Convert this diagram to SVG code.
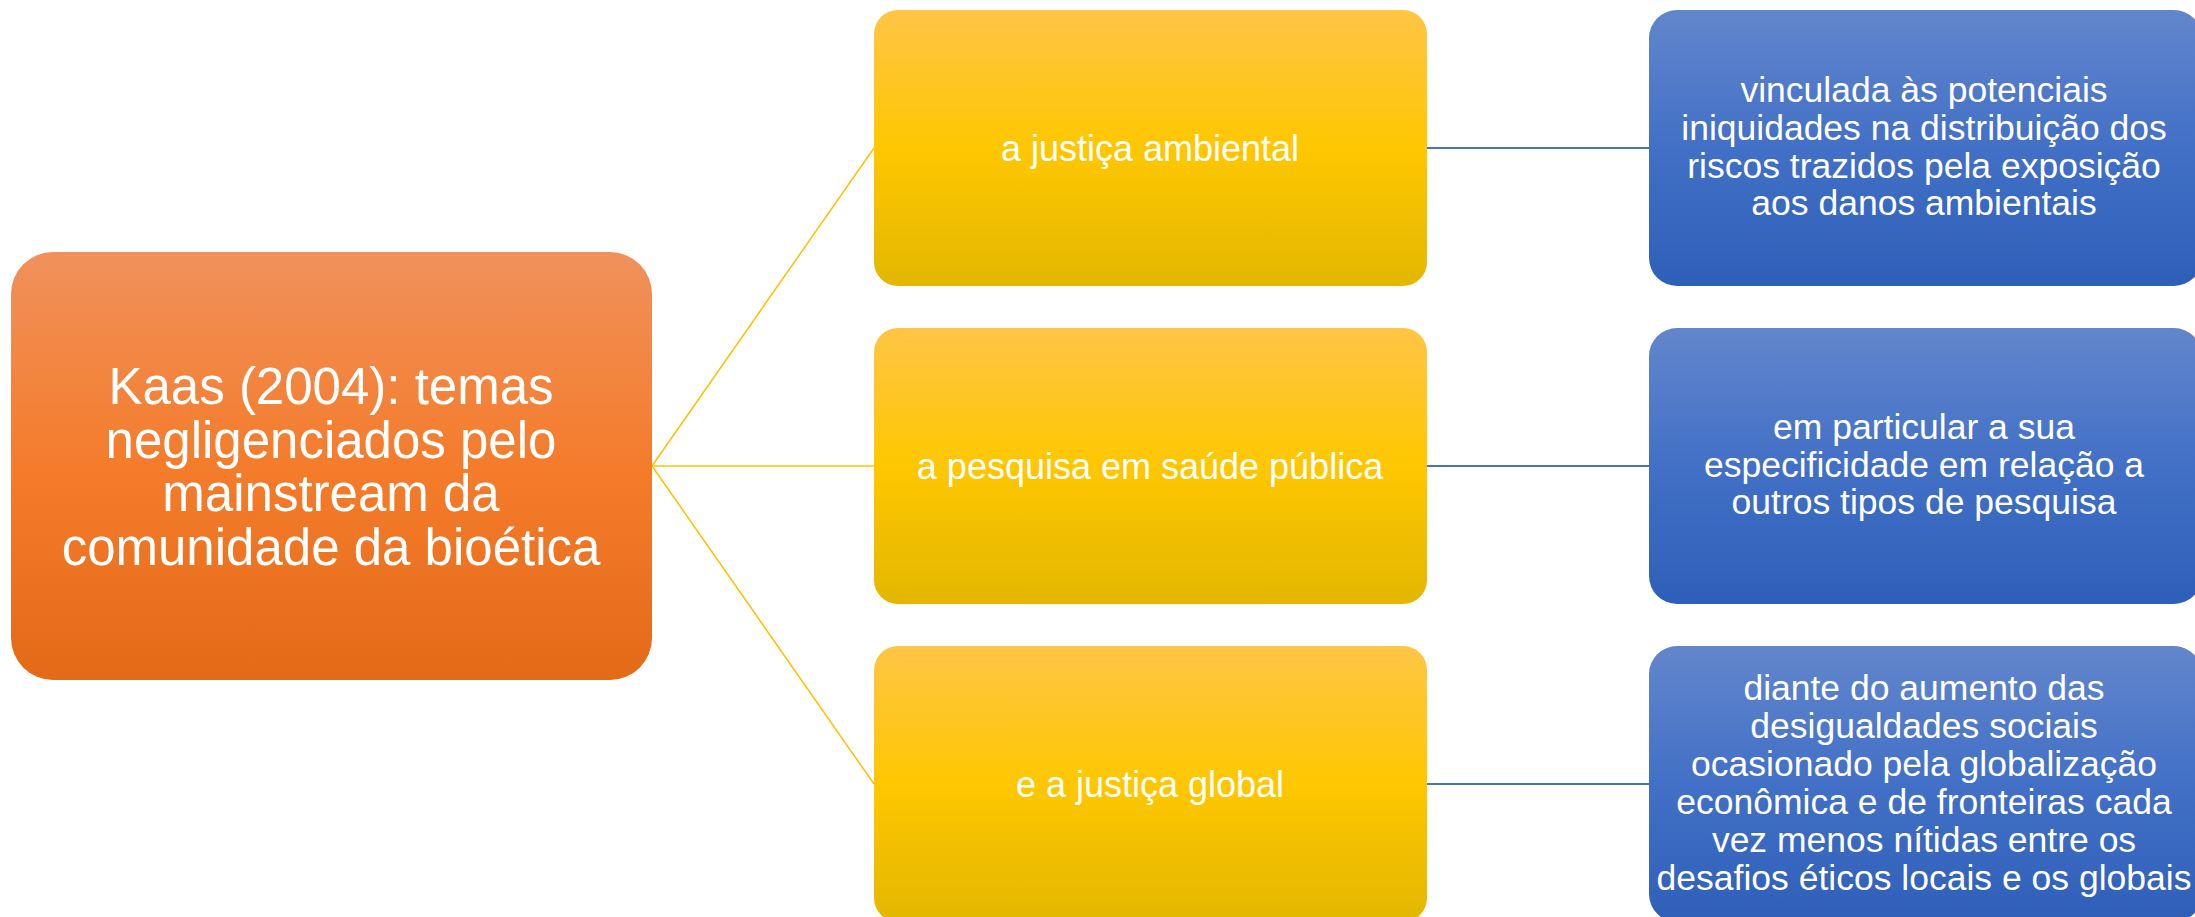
<svg xmlns="http://www.w3.org/2000/svg" width="2195" height="917" viewBox="0 0 2195 917">
<style>
.t{font-family:"Liberation Sans",Arial,sans-serif;fill:#fff;text-anchor:middle}
.o{font-size:51px}
.y{font-size:36px}
.b{font-size:35.5px}
.cy{stroke:#FFC000;stroke-width:1.5;fill:none}
.cb{stroke:#4472C4;stroke-width:2;fill:none}
</style>
<defs>
<linearGradient id="go" x1="0" y1="0" x2="0" y2="1">
<stop offset="0" stop-color="#F0915C"/><stop offset="0.5" stop-color="#F47C2B"/><stop offset="1" stop-color="#E36A17"/>
</linearGradient>
<linearGradient id="gy" x1="0" y1="0" x2="0" y2="1">
<stop offset="0" stop-color="#FFC546"/><stop offset="0.5" stop-color="#FEC700"/><stop offset="1" stop-color="#E3B700"/>
</linearGradient>
<linearGradient id="gb" x1="0" y1="0" x2="0" y2="1">
<stop offset="0" stop-color="#6286CC"/><stop offset="0.5" stop-color="#4270C6"/><stop offset="1" stop-color="#2E5FB8"/>
</linearGradient>
</defs>
<rect width="2195" height="917" fill="#fff"/>
<g id="connectors">
<line class="cy" x1="652" y1="466" x2="874" y2="148"/>
<line class="cy" x1="652" y1="466" x2="874" y2="466"/>
<line class="cy" x1="652" y1="466" x2="874" y2="784"/>
<line class="cb" x1="1427" y1="148" x2="1649" y2="148"/>
<line class="cb" x1="1427" y1="466" x2="1649" y2="466"/>
<line class="cb" x1="1427" y1="784" x2="1649" y2="784"/>
</g>
<g id="root">
<rect x="11" y="252" width="641" height="428" rx="42" fill="url(#go)"/>
<text class="t o" x="331" y="404">Kaas (2004): temas</text>
<text class="t o" x="331" y="457.5">negligenciados pelo</text>
<text class="t o" x="331" y="511">mainstream da</text>
<text class="t o" x="331" y="564.5">comunidade da bioética</text>
</g>
<g id="y1">
<rect x="874" y="10" width="553" height="276" rx="24" fill="url(#gy)"/>
<text class="t y" x="1150" y="161">a justiça ambiental</text>
</g>
<g id="y2">
<rect x="874" y="328" width="553" height="276" rx="24" fill="url(#gy)"/>
<text class="t y" x="1150" y="479">a pesquisa em saúde pública</text>
</g>
<g id="y3">
<rect x="874" y="646" width="553" height="276" rx="24" fill="url(#gy)"/>
<text class="t y" x="1150" y="797">e a justiça global</text>
</g>
<g id="b1">
<rect x="1649" y="10" width="553" height="276" rx="28" fill="url(#gb)"/>
<text class="t b" x="1924" y="102">vinculada às potenciais</text>
<text class="t b" x="1924" y="140">iniquidades na distribuição dos</text>
<text class="t b" x="1924" y="178">riscos trazidos pela exposição</text>
<text class="t b" x="1924" y="215">aos danos ambientais</text>
</g>
<g id="b2">
<rect x="1649" y="328" width="553" height="276" rx="28" fill="url(#gb)"/>
<text class="t b" x="1924" y="439">em particular a sua</text>
<text class="t b" x="1924" y="477">especificidade em relação a</text>
<text class="t b" x="1924" y="514">outros tipos de pesquisa</text>
</g>
<g id="b3">
<rect x="1649" y="646" width="553" height="276" rx="28" fill="url(#gb)"/>
<text class="t b" x="1924" y="700">diante do aumento das</text>
<text class="t b" x="1924" y="738">desigualdades sociais</text>
<text class="t b" x="1924" y="776">ocasionado pela globalização</text>
<text class="t b" x="1924" y="814">econômica e de fronteiras cada</text>
<text class="t b" x="1924" y="852">vez menos nítidas entre os</text>
<text class="t b" x="1924" y="890">desafios éticos locais e os globais</text>
</g>
</svg>
